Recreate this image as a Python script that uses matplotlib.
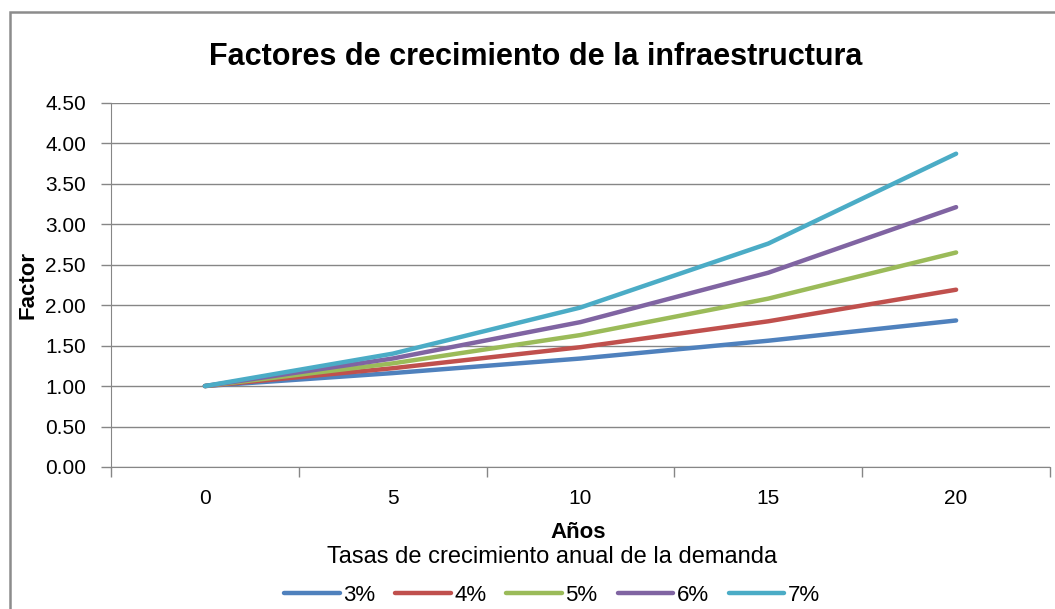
import matplotlib
matplotlib.use("Agg")
import matplotlib.pyplot as plt
from matplotlib.patches import Rectangle
from matplotlib.ticker import FixedLocator, NullFormatter

plt.rcParams['font.family'] = ['Liberation Sans Narrow', 'Liberation Sans', 'DejaVu Sans']

anios = [0, 5, 10, 15, 20]
tasas = ["3%", "4%", "5%", "6%", "7%"]
factores = [
    [1.00, 1.16, 1.34, 1.56, 1.81],
    [1.00, 1.22, 1.48, 1.80, 2.19],
    [1.00, 1.28, 1.63, 2.08, 2.65],
    [1.00, 1.34, 1.79, 2.40, 3.21],
    [1.00, 1.40, 1.97, 2.76, 3.87],
]
colores = ['#4F81BD', '#C0504D', '#9BBB59', '#8064A2', '#4BACC6']

fig = plt.figure(figsize=(10.55, 6.09), dpi=100)
# marco del grafico (estilo Excel)
fig.patches.append(Rectangle((10 / 1055, -0.1), 1.2, 1 - 12 / 609 + 0.1,
                             transform=fig.transFigure, fill=False,
                             edgecolor='#8c8c8c', linewidth=1.8))

ax = fig.add_axes([111 / 1055, 1 - 467 / 609, 939 / 1055, 364.3 / 609])

pos = list(range(len(anios)))
for tasa, vals, c in zip(tasas, factores, colores):
    ax.plot(pos, vals, color=c, linewidth=3.2, label=tasa,
            solid_capstyle='round', solid_joinstyle='round')

ax.set_xlim(-0.5, len(anios) - 0.5)
ax.set_ylim(0, 4.5)
ax.set_yticks([i * 0.5 for i in range(10)])
ax.set_yticklabels([f"{i * 0.5:.2f}" for i in range(10)])
ax.set_xticks(pos)
ax.set_xticklabels([str(a) for a in anios])
ax.xaxis.set_minor_locator(FixedLocator([p - 0.5 for p in range(len(anios) + 1)]))
ax.xaxis.set_minor_formatter(NullFormatter())
ax.tick_params(axis='x', which='major', length=0, pad=16, labelsize=15)
ax.tick_params(axis='x', which='minor', length=7, color='#868686', width=1)
ax.tick_params(axis='y', length=7, color='#868686', width=1, labelsize=15, pad=11)

ax.grid(axis='y', color='#868686', linewidth=1)
ax.set_axisbelow(True)
for s in ['top', 'right']:
    ax.spines[s].set_visible(False)
ax.spines['left'].set_color('#868686')
ax.spines['bottom'].set_color('#868686')

ax.set_ylabel('Factor', fontsize=16, fontweight='bold', va='center')
ax.yaxis.set_label_coords((28 - 111) / 939, 0.5)
ax.set_xlabel('Años', fontsize=16, fontweight='bold', va='center')
ax.xaxis.set_label_coords((578 - 111) / 939, (467 - 533) / 364.3)

fig.suptitle('Factores de crecimiento de la infraestructura', fontsize=22,
             fontweight='bold', x=536 / 1055, y=1 - 57 / 609, va='center')

leg = fig.legend(loc='center', bbox_to_anchor=(552 / 1055, 1 - 576 / 609),
                 ncol=5, frameon=False, fontsize=16, title='Tasas de crecimiento anual de la demanda',
                 title_fontsize=17, handlelength=2.5, handletextpad=0.15,
                 columnspacing=0.9, borderpad=0, labelspacing=0)
leg._legend_box.sep = 12

fig.savefig('out.png', dpi=100)
